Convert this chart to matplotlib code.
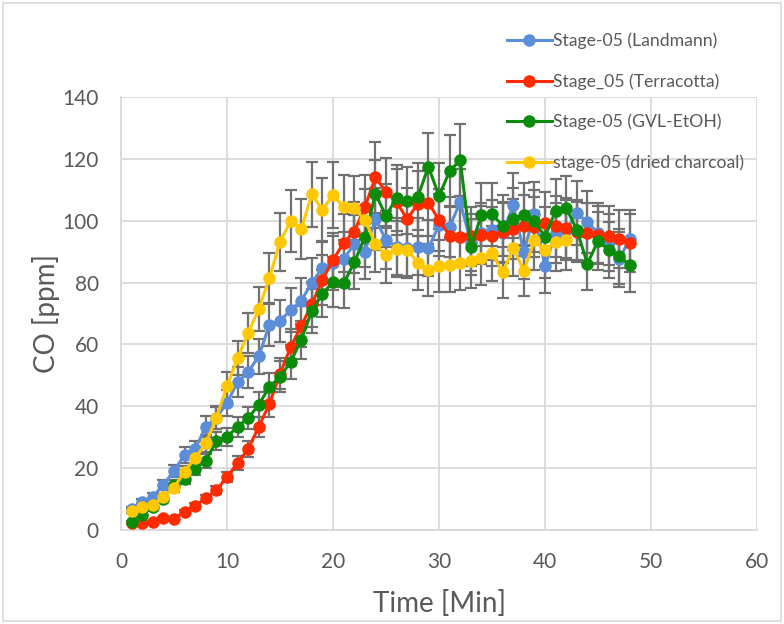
import numpy as np
import matplotlib
matplotlib.use('Agg')
from matplotlib import pyplot as plt
from matplotlib.patches import Rectangle

# ================= dados =================
tempo = list(range(1, 49))
tempo_carvao = list(range(1, 43))

landmann = [6.8, 9.0, 10.7, 14.6, 19.1, 24.3, 26.2, 33.4, 36.3, 41.1,
            47.8, 51.1, 56.2, 66.3, 67.6, 71.1, 74.1, 79.9, 84.8, 86.3,
            87.5, 92.5, 90.0, 100.5, 93.8, 91.6, 91.1, 91.6, 91.1, 98.6,
            98.0, 106.0, 93.0, 96.0, 97.0, 96.0, 105.0, 90.0, 102.2, 85.2,
            96.0, 97.0, 102.5, 99.5, 96.0, 93.0, 87.5, 94.2]

terracotta = [2.3, 2.3, 2.7, 3.9, 3.6, 5.9, 7.8, 10.3, 12.9, 17.1,
              21.7, 26.2, 33.4, 40.8, 50.5, 59.1, 65.9, 73.0, 80.9, 87.3,
              92.8, 96.4, 104.4, 114.0, 109.3, 106.0, 100.5, 105.5, 105.8, 100.2,
              95.2, 94.8, 95.0, 95.4, 94.9, 96.3, 97.3, 98.4, 98.0, 99.3,
              98.2, 97.7, 96.4, 96.0, 95.4, 95.1, 94.1, 92.8]

gvl_etoh = [2.6, 4.9, 7.5, 10.0, 14.6, 16.5, 19.8, 22.4, 28.8, 30.1,
            33.4, 36.2, 40.5, 46.3, 49.5, 54.3, 61.5, 70.8, 76.4, 80.2,
            79.7, 86.5, 94.6, 108.7, 101.6, 107.4, 106.5, 107.7, 117.5, 108.0,
            116.0, 119.6, 91.5, 101.9, 102.1, 98.4, 100.6, 101.9, 99.9, 94.8,
            103.2, 104.2, 97.0, 86.1, 93.5, 90.5, 88.5, 85.7]

carvao = [6.2, 7.5, 8.0, 10.7, 13.7, 18.9, 23.3, 28.0, 36.3, 46.5,
          55.6, 63.7, 71.5, 81.4, 93.2, 99.8, 97.3, 108.5, 103.5, 108.3,
          104.3, 104.0, 100.3, 92.6, 88.8, 90.9, 90.6, 86.3, 84.2, 85.3,
          85.7, 86.3, 87.0, 87.9, 89.5, 83.3, 91.2, 83.8, 93.6, 90.5,
          93.0, 93.6]

# desvios (barras de erro)
erro_landmann = [0.8, 1.0, 1.2, 1.5, 2.0, 2.5, 2.7, 3.4, 3.7, 4.2,
                 4.9, 5.2, 5.7, 6.7, 6.8, 7.2, 7.5, 8.0, 8.5, 8.7,
                 8.8, 9.3, 9.0, 10.1, 9.4, 9.2, 9.1, 9.2, 9.1, 9.9,
                 9.8, 10.6, 9.3, 9.6, 9.7, 9.6, 10.5, 9.0, 10.2, 8.5,
                 9.6, 9.7, 10.3, 10.0, 9.6, 9.3, 8.8, 9.4]

erro_terracotta = [0.3, 0.3, 0.3, 0.4, 0.4, 0.6, 0.8, 1.0, 1.3, 1.7,
                   2.2, 2.6, 3.3, 4.1, 5.0, 5.9, 6.6, 7.3, 8.1, 8.7,
                   9.3, 9.6, 10.4, 11.4, 10.9, 10.6, 10.0, 10.6, 10.6, 10.0,
                   9.5, 9.5, 9.5, 9.5, 9.5, 9.6, 9.7, 9.8, 9.8, 9.9,
                   9.8, 9.8, 9.6, 9.6, 9.5, 9.5, 9.4, 9.3]

erro_gvl = [0.3, 0.5, 0.8, 1.0, 1.5, 1.7, 2.0, 2.2, 2.9, 3.0,
            3.3, 3.6, 4.1, 4.6, 5.0, 5.4, 6.2, 7.1, 7.6, 8.0,
            8.0, 8.7, 9.5, 10.9, 10.2, 10.7, 10.7, 10.8, 11.0, 10.8,
            11.6, 11.6, 9.2, 10.2, 10.2, 9.8, 10.1, 10.2, 10.0, 9.5,
            10.3, 10.4, 9.7, 8.6, 9.4, 9.1, 8.9, 8.6]

erro_carvao = [0.6, 0.8, 0.8, 1.1, 1.4, 1.9, 2.3, 2.8, 3.6, 4.7,
               5.6, 6.4, 7.2, 8.1, 9.3, 10.0, 9.7, 10.5, 10.4, 10.8,
               10.4, 10.4, 10.0, 9.3, 8.9, 9.1, 9.1, 8.6, 8.4, 8.5,
               8.6, 8.6, 8.7, 8.8, 8.9, 8.3, 9.1, 8.3, 9.4, 9.1,
               9.3, 9.4]

# ================= grafico =================
plt.rcParams['font.family'] = ['Lato', 'DejaVu Sans']

fig = plt.figure(figsize=(7.84, 6.24), dpi=100)
ax = fig.add_axes([0.1543, 0.1506, 0.8113, 0.694])

# moldura externa da area do grafico
fig.patches.append(Rectangle((0.004, 0.005), 0.992, 0.99, transform=fig.transFigure,
                             fill=False, edgecolor='#D9D9D9', linewidth=1.2))

series = [
    (tempo, landmann, erro_landmann, '#5B8DD8', 'Stage-05 (Landmann)'),
    (tempo, terracotta, erro_terracotta, '#FF2B00', 'Stage_05 (Terracotta)'),
    (tempo, gvl_etoh, erro_gvl, '#0A8C0A', 'Stage-05 (GVL-EtOH)'),
    (tempo_carvao, carvao, erro_carvao, '#FFC800', 'stage-05 (dried charcoal)'),
]

# barras de erro primeiro, atras das linhas
for x, y, e, cor, nome in series:
    ax.errorbar(x, y, yerr=e, fmt='none', ecolor='#717171', elinewidth=1.6,
                capsize=4.5, capthick=1.6, zorder=2)

for x, y, e, cor, nome in series:
    ax.plot(x, y, '-o', color=cor, linewidth=2.2, markersize=8, label=nome, zorder=3)

ax.set_xlim(0, 60)
ax.set_ylim(0, 140)
ax.set_xticks(np.arange(0, 61, 10))
ax.set_yticks(np.arange(0, 141, 20))
ax.grid(True, color='#D9D9D9', linewidth=1.3)
ax.set_axisbelow(True)
for lado in ['top', 'right']:
    ax.spines[lado].set_visible(False)
for lado in ['left', 'bottom']:
    ax.spines[lado].set_color('#D9D9D9')
    ax.spines[lado].set_linewidth(1.3)
ax.tick_params(length=0, labelsize=15, labelcolor='#595959')
ax.tick_params(axis='y', pad=16)
ax.tick_params(axis='x', pad=16)

ax.set_xlabel('Time [Min]', fontsize=20, color='#595959', labelpad=13)
ax.set_ylabel('CO [ppm]', fontsize=20, color='#595959', labelpad=2)

leg = fig.legend(loc='upper left', bbox_to_anchor=(0.627, 0.973), frameon=False,
                 fontsize=12.7, labelspacing=1.36, handlelength=2.5, handletextpad=0.1,
                 labelcolor='#595959')

plt.savefig('out.png', dpi=100)
